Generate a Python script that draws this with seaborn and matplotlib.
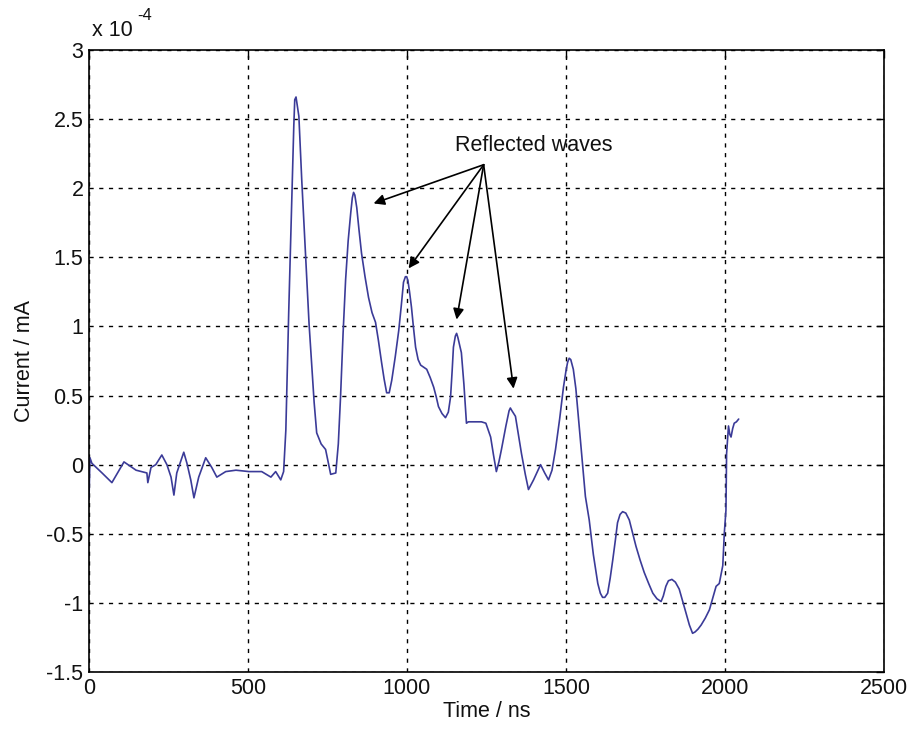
import numpy as np
import pandas as pd
import matplotlib
matplotlib.use("Agg")
import matplotlib.pyplot as plt
import seaborn as sns

# Time (ns) and current (x1e-4 mA)
time_ns = [0, 3, 9, 41, 72, 110, 148, 182, 185, 195, 210, 229, 245, 258, 267, 276,
           298, 308, 320, 330, 345, 367, 386, 402, 430, 462, 503, 543, 572, 587, 603,
           612, 619, 628, 638, 644, 647, 651, 656, 660, 669, 677, 685, 692, 700, 708,
           716, 730, 744, 752, 760, 776, 784, 791, 799, 807, 815, 823, 828, 832, 836,
           842, 849, 857, 868, 879, 890, 901, 910, 920, 928, 936, 944, 952, 963, 974,
           982, 989, 995, 999, 1003, 1008, 1014, 1020, 1027, 1035, 1043, 1062, 1073,
           1084, 1092, 1099, 1110, 1121, 1130, 1137, 1142, 1146, 1152, 1156, 1160,
           1165, 1171, 1179, 1187, 1193, 1234, 1248, 1263, 1272, 1281, 1289, 1297,
           1311, 1321, 1325, 1330, 1341, 1350, 1360, 1372, 1382, 1398, 1410, 1420,
           1433, 1445, 1456, 1467, 1480, 1492, 1500, 1505, 1510, 1515, 1523, 1531,
           1539, 1550, 1561, 1573, 1586, 1600, 1608, 1615, 1622, 1631, 1639, 1647,
           1655, 1662, 1670, 1678, 1688, 1699, 1710, 1720, 1733, 1746, 1760, 1773,
           1786, 1799, 1806, 1814, 1822, 1833, 1844, 1856, 1866, 1877, 1888, 1898,
           1906, 1915, 1925, 1938, 1951, 1962, 1972, 1982, 1993, 1998, 2003, 2005,
           2008, 2011, 2015, 2019, 2024, 2029, 2036, 2043]
current = [-0.25, 0.05, 0.01, -0.06, -0.13, 0.02, -0.04, -0.06, -0.13, -0.02, 0.0,
           0.07, 0.0, -0.09, -0.22, -0.06, 0.09, 0.01, -0.11, -0.24, -0.09, 0.05,
           -0.02, -0.09, -0.05, -0.04, -0.05, -0.05, -0.09, -0.05, -0.11, -0.05,
           0.25, 1.10, 1.94, 2.45, 2.64, 2.66, 2.58, 2.52, 2.06, 1.70, 1.34, 1.02,
           0.74, 0.45, 0.23, 0.15, 0.11, 0.02, -0.07, -0.06, 0.15, 0.49, 0.95, 1.34,
           1.62, 1.82, 1.93, 1.97, 1.95, 1.86, 1.70, 1.53, 1.36, 1.21, 1.10, 1.03,
           0.90, 0.74, 0.62, 0.52, 0.52, 0.61, 0.78, 0.97, 1.15, 1.32, 1.36, 1.36,
           1.33, 1.25, 1.14, 1.00, 0.85, 0.76, 0.72, 0.69, 0.63, 0.56, 0.49, 0.42,
           0.37, 0.34, 0.38, 0.49, 0.68, 0.85, 0.93, 0.95, 0.92, 0.87, 0.81, 0.58,
           0.30, 0.31, 0.31, 0.30, 0.20, 0.07, -0.05, 0.02, 0.11, 0.28, 0.39, 0.41,
           0.39, 0.35, 0.22, 0.08, -0.07, -0.18, -0.11, -0.05, 0.0, -0.06, -0.11,
           -0.04, 0.11, 0.33, 0.56, 0.68, 0.74, 0.77, 0.76, 0.69, 0.55, 0.34, 0.05,
           -0.23, -0.40, -0.65, -0.86, -0.93, -0.96, -0.96, -0.93, -0.82, -0.69,
           -0.55, -0.42, -0.36, -0.34, -0.35, -0.40, -0.50, -0.59, -0.69, -0.78,
           -0.86, -0.93, -0.97, -0.99, -0.95, -0.88, -0.84, -0.83, -0.85, -0.90,
           -0.98, -1.07, -1.16, -1.22, -1.21, -1.19, -1.16, -1.11, -1.05, -0.96,
           -0.88, -0.86, -0.73, -0.49, -0.33, 0.08, 0.18, 0.28, 0.22, 0.20, 0.26,
           0.30, 0.31, 0.33]

x_ticks = [0, 500, 1000, 1500, 2000, 2500]
y_ticks = [-1.5, -1, -0.5, 0, 0.5, 1, 1.5, 2, 2.5, 3]
y_tick_labels = ["-1.5", "-1", "-0.5", "0", "0.5", "1", "1.5", "2", "2.5", "3"]

annot_text = "Reflected waves"
annot_tail = (1241, 2.17)
annot_heads = [(895, 1.89), (1005, 1.42), (1156, 1.05), (1335, 0.55)]

sns.set_theme(style="white")
plt.rcParams['font.family'] = ['Liberation Sans', 'DejaVu Sans']

df = pd.DataFrame({"t": time_ns, "i": current})

fig = plt.figure(figsize=(9.12, 7.36), dpi=100)
ax = fig.add_axes([89 / 912, 1 - 672 / 736, (884 - 89) / 912, (672 - 50) / 736])

sns.lineplot(data=df, x="t", y="i", ax=ax, color="#3b3b98", linewidth=1.2,
             estimator=None, sort=False)

ax.set_xlim(0, 2500)
ax.set_ylim(-1.5, 3)
ax.set_xticks(x_ticks)
ax.set_xticklabels([str(v) for v in x_ticks])
ax.set_yticks(y_ticks)
ax.set_yticklabels(y_tick_labels)
ax.tick_params(direction="in", length=6, width=1, color="black", top=True, right=True,
               labelsize=15.5, labelcolor="#111111", pad=4)
ax.grid(True, color="black", linestyle=(0, (3, 4)), linewidth=1.0)
for s in ax.spines.values():
    s.set_visible(True)
    s.set_color("black")
    s.set_linewidth(1.2)

ax.set_xlabel("Time / ns", fontsize=15.5, color="#111111", labelpad=2)
ax.set_ylabel("Current / mA", fontsize=15.5, color="#111111", labelpad=8)

fig.text(92 / 912, 1 - 30 / 736, "x 10", fontsize=15.5, color="#111111",
         va="center", ha="left")
fig.text(137 / 912, 1 - 16 / 736, "-4", fontsize=12, color="#111111",
         va="center", ha="left")

ax.text(1398, 2.31, annot_text, fontsize=15.5, color="#111111", ha="center", va="center")
for hx, hy in annot_heads:
    ax.annotate("", xy=(hx, hy), xytext=annot_tail,
                arrowprops=dict(arrowstyle="-|>", color="black", lw=1.2,
                                mutation_scale=16, shrinkA=0, shrinkB=0))

fig.savefig("out.png", dpi=100, facecolor="white")
